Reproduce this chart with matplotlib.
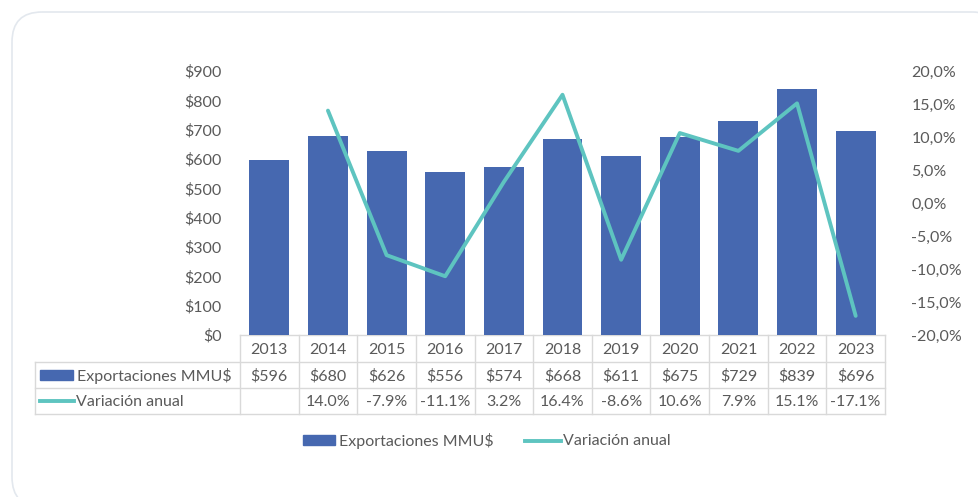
import matplotlib.pyplot as plt
from matplotlib.patches import FancyBboxPatch, Rectangle
from matplotlib.lines import Line2D
import numpy as np

plt.rcParams['font.family'] = ['Lato', 'DejaVu Sans']

years = ['2013', '2014', '2015', '2016', '2017', '2018', '2019', '2020', '2021', '2022', '2023']
exports = [596, 680, 626, 556, 574, 668, 611, 675, 729, 839, 696]
variation = [None, 14.0, -7.9, -11.1, 3.2, 16.4, -8.6, 10.6, 7.9, 15.1, -17.1]

bar_color = '#4668B0'
line_color = '#5EC4C0'
text_color = '#5A5A5A'
grid_color = '#D9D9D9'

W, H = 979, 497
fig = plt.figure(figsize=(W / 100, H / 100), dpi=100)

# overlay in pixel coords for the card, table and legend
bg = fig.add_axes([0, 0, 1, 1])
bg.set_xlim(0, W)
bg.set_ylim(H, 0)
bg.axis('off')
bg.add_patch(FancyBboxPatch((12, 12), 990, 495, boxstyle='round,pad=0,rounding_size=30',
                            facecolor='white', edgecolor='#E3E8EE', linewidth=1.2))

# plot area in pixels
px_left, px_right, px_top, px_bottom = 240, 885, 71, 335
ax = fig.add_axes([px_left / W, 1 - px_bottom / H, (px_right - px_left) / W, (px_bottom - px_top) / H])
ax.set_zorder(2)
x = np.arange(len(years))
ax.bar(x, exports, width=0.68, color=bar_color)
ax.set_xlim(-0.5, len(years) - 0.5)
ax.set_ylim(0, 900)
ax.set_yticks(range(0, 901, 100))
ax.set_yticklabels([f'${v}' for v in range(0, 901, 100)])
ax.set_xticks([])
for s in ax.spines.values():
    s.set_visible(False)
ax.tick_params(axis='y', length=0, labelsize=11.5, labelcolor=text_color, pad=13)
ax.patch.set_alpha(0)

ax2 = ax.twinx()
xv = [i for i, v in enumerate(variation) if v is not None]
yv = [v for v in variation if v is not None]
ax2.plot(xv, yv, color=line_color, linewidth=2.8, solid_capstyle='round')
ax2.set_ylim(-20, 20)
ticks = np.arange(-20, 20.1, 5)
ax2.set_yticks(ticks)
ax2.set_yticklabels([f'{t:.1f}%'.replace('.', ',') for t in ticks])
for s in ax2.spines.values():
    s.set_visible(False)
ax2.tick_params(axis='y', length=0, labelsize=11.5, labelcolor=text_color, pad=19)

# data table
col_w = (px_right - px_left) / len(years)
rows = [335, 362, 388, 414]
tbl_left = 35
lw = 1.0
bg.plot([px_left, px_right], [rows[0], rows[0]], color=grid_color, lw=lw)
for r in rows[1:]:
    bg.plot([tbl_left, px_right], [r, r], color=grid_color, lw=lw)
bg.plot([tbl_left, tbl_left], [rows[1], rows[3]], color=grid_color, lw=lw)
for i in range(len(years) + 1):
    xp = px_left + i * col_w
    bg.plot([xp, xp], [rows[0], rows[3]], color=grid_color, lw=lw)

fs = 11.5
for i, yr in enumerate(years):
    cx = px_left + (i + 0.5) * col_w
    bg.text(cx, (rows[0] + rows[1]) / 2 + 1, yr, ha='center', va='center', fontsize=fs, color=text_color)
    bg.text(cx, (rows[1] + rows[2]) / 2 + 1, f'${exports[i]}', ha='center', va='center', fontsize=fs, color=text_color)
    if variation[i] is not None:
        bg.text(cx, (rows[2] + rows[3]) / 2 + 1, f'{variation[i]:.1f}%', ha='center', va='center',
                fontsize=fs, color=text_color)

bg.add_patch(Rectangle((40, 370), 33, 10, color=bar_color))
bg.text(77, (rows[1] + rows[2]) / 2 + 1, 'Exportaciones MMU$', ha='left', va='center', fontsize=fs, color=text_color)
bg.add_line(Line2D([40, 74], [401, 401], color=line_color, lw=2.8))
bg.text(76, (rows[2] + rows[3]) / 2 + 1, 'Variación anual', ha='left', va='center', fontsize=fs, color=text_color)

# legend
bg.add_patch(Rectangle((303, 435), 32, 10, color=bar_color))
bg.text(339, 441, 'Exportaciones MMU$', ha='left', va='center', fontsize=fs, color=text_color)
bg.add_line(Line2D([525, 561], [441, 441], color=line_color, lw=2.8))
bg.text(563, 441, 'Variación anual', ha='left', va='center', fontsize=fs, color=text_color)

fig.savefig('out.png', dpi=100)
